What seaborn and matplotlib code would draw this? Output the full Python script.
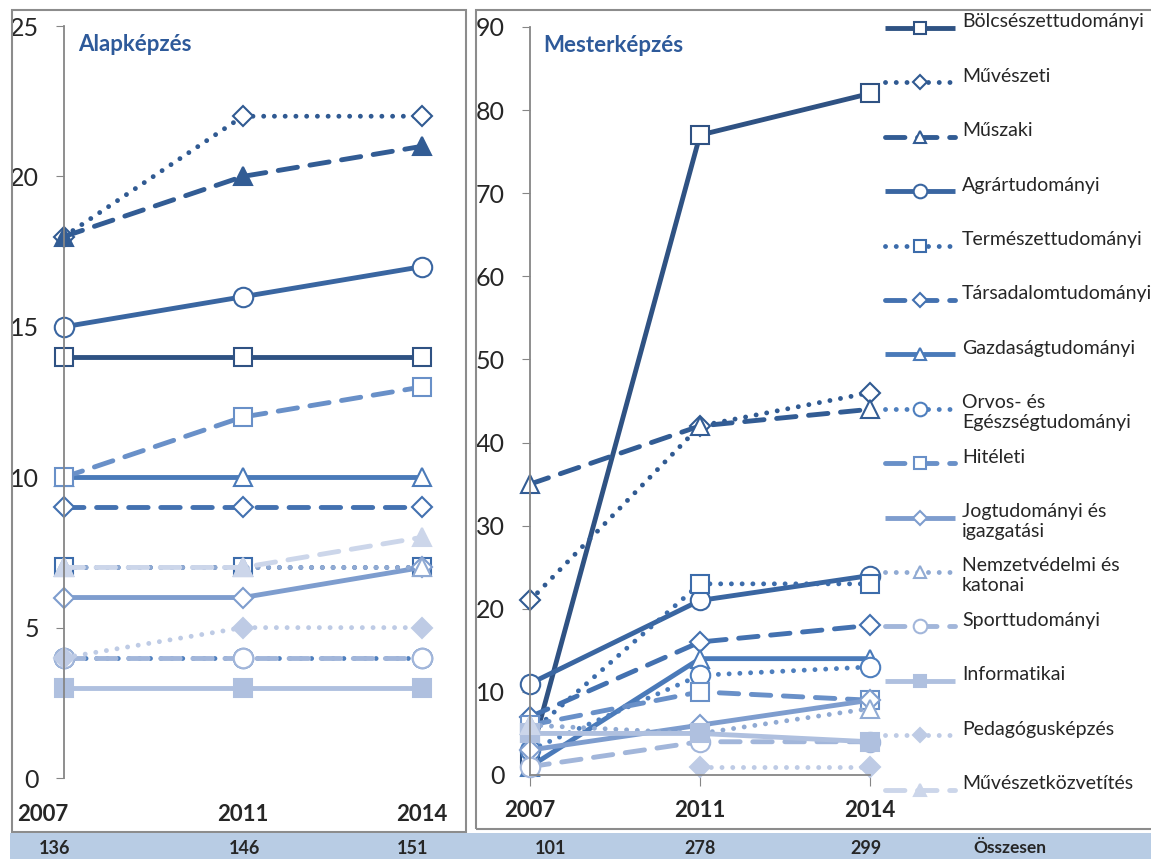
import numpy as np
import pandas as pd
import matplotlib
matplotlib.use("Agg")
import matplotlib.pyplot as plt
import matplotlib.transforms as mtransforms
from matplotlib.patches import Rectangle
import seaborn as sns

sns.set_style("white")
plt.rcParams['font.family'] = ['Lato', 'DejaVu Sans']

# data
years = ["2007", "2011", "2014"]
names = ["Bölcsészettudományi", "Művészeti", "Műszaki", "Agrártudományi",
         "Természettudományi", "Társadalomtudományi", "Gazdaságtudományi",
         "Orvos- és\nEgészségtudományi", "Hitéleti", "Jogtudományi és\nigazgatási",
         "Nemzetvédelmi és\nkatonai", "Sporttudományi", "Informatikai",
         "Pedagógusképzés", "Művészetközvetítés"]
alap = [[14, 14, 14], [18, 22, 22], [18, 20, 21], [15, 16, 17], [7, 7, 7],
        [9, 9, 9], [10, 10, 10], [4, 4, 4], [10, 12, 13], [6, 6, 7],
        [7, 7, 7], [4, 4, 4], [3, 3, 3], [4, 5, 5], [7, 7, 8]]
mester = [[2, 77, 82], [21, 42, 46], [35, 42, 44], [11, 21, 24], [5, 23, 23],
          [7, 16, 18], [1, 14, 14], [3, 12, 13], [6, 10, 9], [3, 6, 9],
          [6, 5, 8], [1, 4, 4], [5, 5, 4], [np.nan, 1, 1], [6, np.nan, np.nan]]
totals_alap = [136, 146, 151]
totals_mester = [101, 278, 299]

# styles
colors = ["#2F5283", "#305A92", "#325C94", "#3A66A1", "#3C6CAB", "#4371B0",
          "#4A7AB9", "#4E7FBE", "#6990C8", "#7E9DCE", "#90AAD3", "#A2B6DA",
          "#AFC0DF", "#BECBE5", "#CCD6EA"]
dotted = (0, (0.01, 2.2))
dashed = (0, (4.0, 2.6))
ls_cycle = ["-", dotted, dashed]
mk_cycle = ["s", "D", "^", "o"]
mk_size = {"s": 13, "D": 10, "^": 13, "o": 14}


def style_for(i, panel):
    mk = mk_cycle[i % 4]
    face = "white"
    if i >= 12:
        face = colors[i]
    if panel == "alap" and i == 2:
        face = colors[i]
    return dict(color=colors[i], linestyle=ls_cycle[i % 3], marker=mk,
                markersize=mk_size[mk], markerfacecolor=face,
                markeredgecolor=colors[i], markeredgewidth=1.5,
                linewidth=3.5, dash_capstyle="round", solid_capstyle="butt",
                clip_on=False)


W, H = 1151, 859
fig = plt.figure(figsize=(W / 100, H / 100), dpi=100)

# panel frames and bottom band
fig.patches.append(Rectangle((12 / W, 1 - 832 / H), 454 / W, 822 / H,
                             transform=fig.transFigure, fill=False,
                             edgecolor="#8C8C8C", linewidth=1.5))
fig.patches.append(Rectangle((476 / W, 1 - 829 / H), 700 / W, 819 / H,
                             transform=fig.transFigure, fill=False,
                             edgecolor="#8C8C8C", linewidth=1.5))
fig.patches.append(Rectangle((10 / W, 0), 1141 / W, 26 / H,
                             transform=fig.transFigure, color="#B8CCE4",
                             linewidth=0))


def make_panel(rect, values, ymax, ystep, title, panel):
    ax = fig.add_axes(rect)
    ax.patch.set_alpha(0)
    for i, vals in enumerate(values):
        df = pd.DataFrame({"x": [0, 1, 2], "y": vals}).dropna()
        sns.lineplot(data=df, x="x", y="y", ax=ax, **style_for(i, panel))
    ax.set_xlim(0, 2)
    ax.set_ylim(0, ymax)
    ax.set_yticks(np.arange(0, ymax + 1, ystep))
    ax.set_xticks([0, 1, 2])
    ax.set_xticklabels(years, fontweight="bold")
    ax.set_xlabel("")
    ax.set_ylabel("")
    for s in ["top", "right"]:
        ax.spines[s].set_visible(False)
    for s in ["left", "bottom"]:
        ax.spines[s].set_color("#868686")
        ax.spines[s].set_linewidth(1.3)
    ax.tick_params(axis="y", left=True, length=6, color="#868686",
                   labelsize=18, pad=12)
    ax.tick_params(axis="x", bottom=True, length=8, color="#868686",
                   labelsize=16, pad=10)
    ax.text(0.04, 0.975, title, transform=ax.transAxes, fontsize=16,
            fontweight="bold", color="#2E5A9A", va="center", ha="left")
    return ax


ax1 = make_panel([64 / W, 1 - 778 / H, 358 / W, 752 / H], alap, 25, 5,
                 "Alapképzés", "alap")
ax1.spines["bottom"].set_visible(False)
ax1.tick_params(axis="x", length=0, pad=19)
ax2 = make_panel([530 / W, 1 - 775 / H, 340 / W, 748 / H], mester, 90, 10,
                 "Mesterképzés", "mester")
ax2.tick_params(axis="x", pad=10)

# first year label of the left panel sits at the frame edge
fig.canvas.draw()
lab0 = ax1.get_xticklabels()[0]
lab0.set_transform(lab0.get_transform() +
                   mtransforms.ScaledTranslation(-21 / 100, 0, fig.dpi_scale_trans))

# totals row (table cells are slightly offset from the ticks, in px)
cell_shift = {id(ax1): [-9, 2, -9], id(ax2): [21, 0, -4]}
for ax, tot in [(ax1, totals_alap), (ax2, totals_mester)]:
    tr = mtransforms.blended_transform_factory(ax.transData, fig.transFigure)
    for i, t in enumerate(tot):
        off = mtransforms.ScaledTranslation(cell_shift[id(ax)][i] / 100, 0,
                                            fig.dpi_scale_trans)
        fig.text(i, 11 / H, str(t), transform=tr + off, ha="center",
                 va="center", fontsize=13, fontweight="bold")
fig.text(973 / W, 11 / H, "Összesen", ha="left", va="center",
         fontsize=12.5, fontweight="bold")

# legend
lax = fig.add_axes([0, 0, 1, 1])
lax.set_xlim(0, W)
lax.set_ylim(H, 0)
lax.axis("off")
for i, name in enumerate(names):
    yy = 28 + i * 54.4
    st = style_for(i, "mester")
    st["markersize"] = st["markersize"] * 0.7
    lax.plot([885, 920, 955], [yy, yy, yy], markevery=[1], **st)
    lax.text(962, yy, name, fontsize=14, va="top", ha="left",
             transform=lax.transData + mtransforms.ScaledTranslation(0, 10.5 / 72, fig.dpi_scale_trans),
             linespacing=1.2)

fig.savefig("out.png", dpi=100)
